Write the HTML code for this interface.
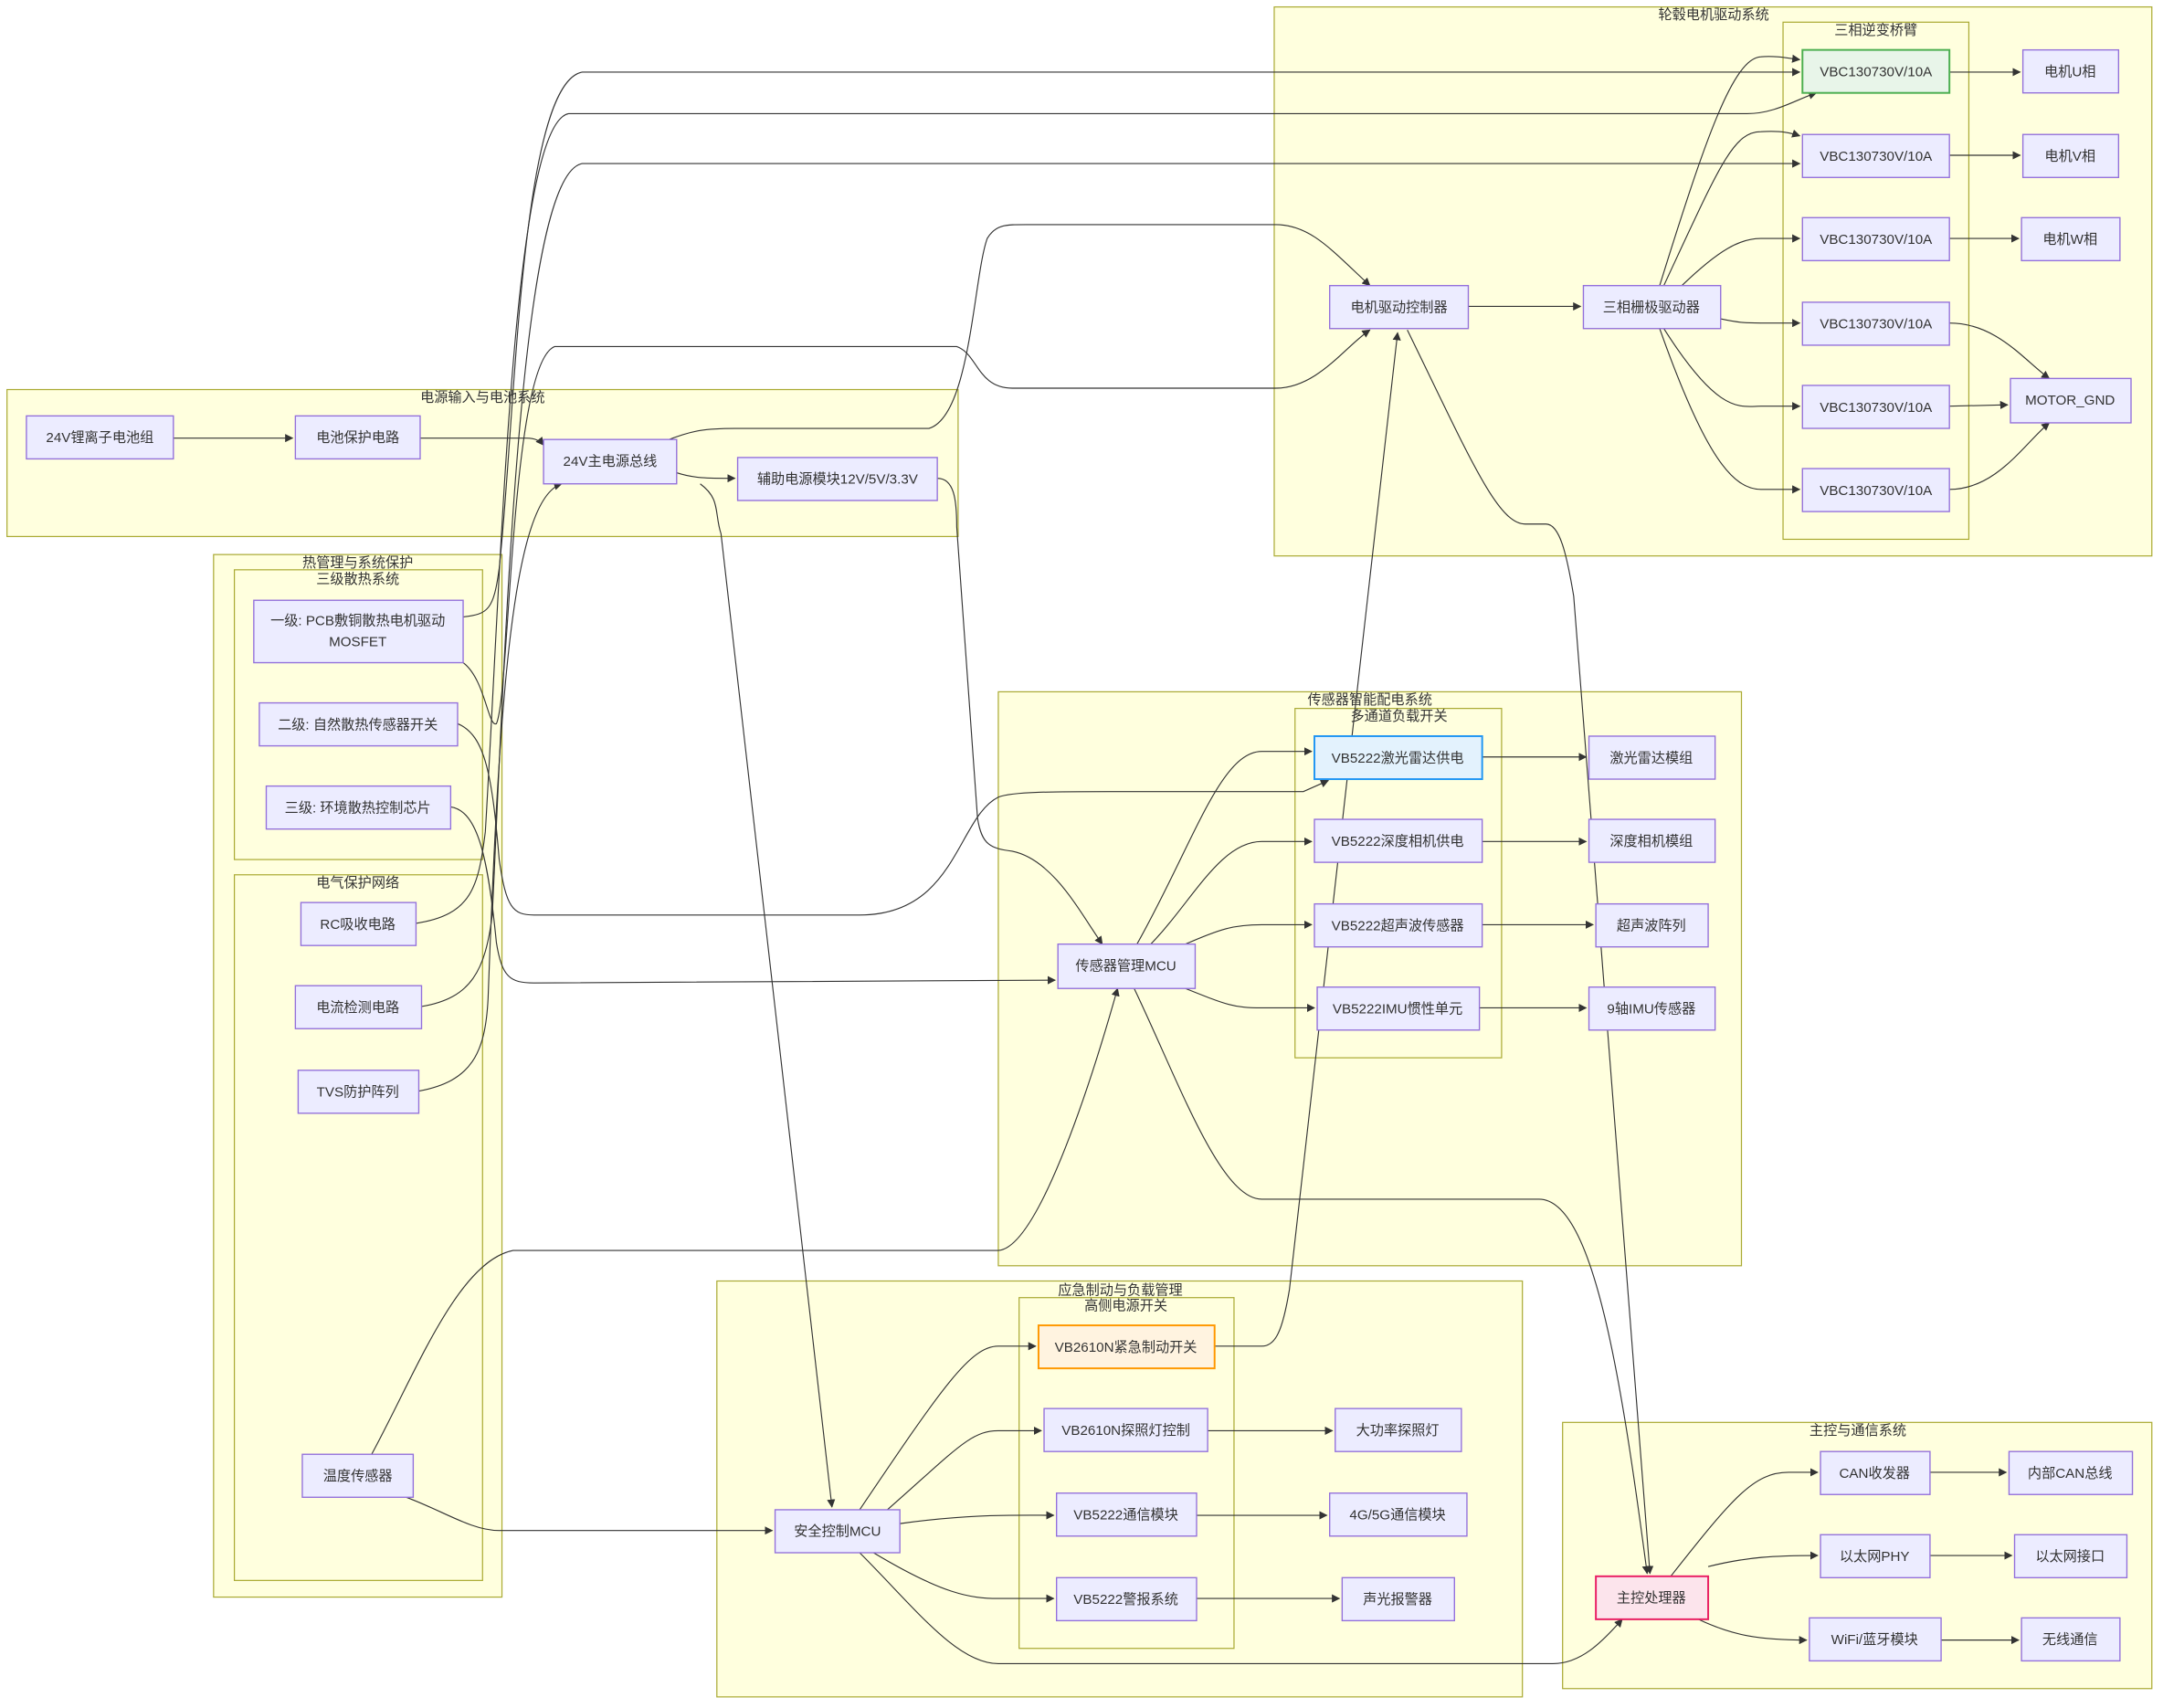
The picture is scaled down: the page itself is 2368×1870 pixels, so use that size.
<!DOCTYPE html>
<html><head><meta charset="utf-8"><style>
html,body{margin:0;padding:0;background:#fff;}
svg{display:block;}
text{font-family:"Liberation Sans","Noto Sans CJK SC",sans-serif;fill:#333;}
.cl{fill:#ffffde;stroke:#aaaa33;stroke-width:0.8;}
.nd{fill:#ececff;stroke:#9370db;stroke-width:0.9;}
.e{fill:none;stroke:#333;stroke-width:0.75;}
.t{font-size:10px;text-anchor:middle;dominant-baseline:central;}
</style></head><body>
<svg width="2368" height="1870" viewBox="0 0 1560 1232" xmlns="http://www.w3.org/2000/svg">
<defs><marker id="a" viewBox="0 0 10 10" refX="9" refY="5" markerWidth="6" markerHeight="6" markerUnits="userSpaceOnUse" orient="auto"><path d="M0,0L10,5L0,10z" fill="#333"/></marker></defs>
<!-- clusters -->
<rect class="cl" x="5" y="281" width="686" height="106"/>
<text class="t" x="348" y="287">电源输入与电池系统</text>
<rect class="cl" x="154" y="400" width="208" height="752"/>
<text class="t" x="258" y="406">热管理与系统保护</text>
<rect class="cl" x="169" y="411" width="179" height="209"/>
<text class="t" x="258" y="418">三级散热系统</text>
<rect class="cl" x="169" y="631" width="179" height="509"/>
<text class="t" x="258" y="637">电气保护网络</text>
<rect class="cl" x="919" y="5" width="633" height="396"/>
<text class="t" x="1236" y="11">轮毂电机驱动系统</text>
<rect class="cl" x="1286" y="16" width="134" height="373"/>
<text class="t" x="1353" y="22">三相逆变桥臂</text>
<rect class="cl" x="720" y="499" width="536" height="414"/>
<text class="t" x="988" y="505">传感器智能配电系统</text>
<rect class="cl" x="934" y="511" width="149" height="252"/>
<text class="t" x="1009" y="517">多通道负载开关</text>
<rect class="cl" x="517" y="924" width="581" height="300"/>
<text class="t" x="808" y="931">应急制动与负载管理</text>
<rect class="cl" x="735" y="936" width="155" height="253"/>
<text class="t" x="812" y="942">高侧电源开关</text>
<rect class="cl" x="1127" y="1026" width="425" height="192"/>
<text class="t" x="1340" y="1032">主控与通信系统</text>
<!-- edges -->
<g class="e" marker-end="url(#a)">
<path d="M125,316 L211,316"/>
<path d="M303,316 L380,316 Q388,316 392,321"/>
<path d="M488,341 C500,345 510,345 530,345"/>
<path d="M480,318 C500,310 510,309 530,309 L670,309 C700,300 702,200 712,172 C718,162 725,162 740,162 L920,162 C945,162 960,180 988,206"/>
<path d="M334,445 C352,443 356,440 360,410 C372,300 375,60 420,52 L1298,52"/>
<path d="M334,478 C350,490 352,525 358,522 C368,500 368,262 400,250 L690,250 C705,255 705,280 730,280 L920,280 C950,280 970,250 988,238"/>
<path d="M300,666 C340,660 345,640 350,600 C362,400 370,90 410,82 L1260,82 C1280,82 1295,72 1310,67"/>
<path d="M304,726 C340,720 350,700 355,660 C365,450 375,125 420,118 L1298,118"/>
<path d="M302,787 C340,780 350,760 352,720 C360,500 370,360 405,349"/>
<path d="M330,522 C350,530 355,560 360,620 C365,655 370,660 385,660 L620,660 C690,660 690,590 720,575 C730,571 760,571 800,571 L940,571 L958,563"/>
<path d="M325,582 C345,585 352,620 358,680 C362,705 368,709 385,709 L761,707"/>
<path d="M268,1049 C300,990 330,910 370,902 L720,902 C750,900 790,770 806,713"/>
<path d="M293,1080 C320,1090 340,1104 360,1104 L557,1104"/>
<path d="M676,345 C688,345 690,360 690,380 L705,590 C708,610 715,612 730,614 C760,620 780,660 795,681"/>
<path d="M505,349 C520,360 515,370 520,385 L600,1087"/>
<path d="M820,681 C860,610 880,542 910,542 L946,542"/>
<path d="M830,681 C860,650 880,607 910,607 L946,607"/>
<path d="M855,681 C880,670 890,667 910,667 L946,667"/>
<path d="M855,713 C885,725 890,727 910,727 L948,727"/>
<path d="M1069,546 L1144,546"/>
<path d="M1069,607 L1144,607"/>
<path d="M1069,667 L1149,667"/>
<path d="M1067,727 L1144,727"/>
<path d="M818,713 C850,780 880,865 910,865 L1110,865 C1150,865 1170,1000 1188,1135"/>
<path d="M1015,238 C1060,330 1080,378 1100,378 L1115,378 C1125,378 1130,400 1135,430 L1190,1135"/>
<path d="M620,1120 C660,1160 690,1200 720,1200 L1120,1200 C1140,1200 1155,1185 1170,1168"/>
<path d="M876,971 L910,971 C920,971 925,960 930,930 L1008,240"/>
<path d="M620,1089 C680,1000 700,971 720,971 L747,971"/>
<path d="M640,1089 C690,1045 700,1032 720,1032 L751,1032"/>
<path d="M649,1099 C700,1092 730,1093 760,1093"/>
<path d="M630,1120 C680,1150 700,1153 720,1153 L760,1153"/>
<path d="M871,1032 L961,1032"/>
<path d="M863,1093 L957,1093"/>
<path d="M863,1153 L966,1153"/>
<path d="M1059,221 L1140,221"/>
<path d="M1197,206 C1230,100 1250,42 1270,41 C1280,40 1290,42 1298,43"/>
<path d="M1200,206 C1240,120 1250,95 1270,95 C1285,94 1292,96 1298,98"/>
<path d="M1213,206 C1240,180 1255,172 1270,172 L1298,172"/>
<path d="M1241,230 C1255,233 1260,233 1270,233 L1298,233"/>
<path d="M1200,237 C1240,300 1255,293 1270,293 L1298,293"/>
<path d="M1197,237 C1230,330 1250,353 1270,353 L1298,353"/>
<path d="M1406,52 L1457,52"/>
<path d="M1406,112 L1457,112"/>
<path d="M1406,172 L1456,172"/>
<path d="M1406,233 C1440,233 1460,260 1478,273"/>
<path d="M1406,293 L1448,292"/>
<path d="M1406,353 C1440,353 1460,320 1478,305"/>
<path d="M1205,1137 C1250,1080 1265,1062 1290,1062 L1311,1062"/>
<path d="M1232,1130 C1260,1123 1280,1122 1311,1122"/>
<path d="M1225,1168 C1250,1180 1270,1183 1303,1183"/>
<path d="M1392,1062 L1447,1062"/>
<path d="M1392,1122 L1451,1122"/>
<path d="M1400,1183 L1456,1183"/>
</g>
<!-- nodes -->
<g>
<rect class="nd" x="19" y="300" width="106" height="31"/><text class="t" x="72" y="316">24V锂离子电池组</text>
<rect class="nd" x="213" y="300" width="90" height="31"/><text class="t" x="258" y="316">电池保护电路</text>
<rect class="nd" x="392" y="317" width="96" height="32"/><text class="t" x="440" y="333">24V主电源总线</text>
<rect class="nd" x="532" y="330" width="144" height="31"/><text class="t" x="604" y="346">辅助电源模块12V/5V/3.3V</text>
<rect class="nd" x="183" y="433" width="151" height="45"/><text class="t" x="258" y="448">一级: PCB敷铜散热电机驱动</text><text class="t" x="258" y="463">MOSFET</text>
<rect class="nd" x="187" y="507" width="143" height="31"/><text class="t" x="258" y="523">二级: 自然散热传感器开关</text>
<rect class="nd" x="192" y="567" width="133" height="31"/><text class="t" x="258" y="583">三级: 环境散热控制芯片</text>
<rect class="nd" x="217" y="651" width="83" height="31"/><text class="t" x="258" y="667">RC吸收电路</text>
<rect class="nd" x="213" y="711" width="91" height="31"/><text class="t" x="258" y="727">电流检测电路</text>
<rect class="nd" x="215" y="772" width="87" height="31"/><text class="t" x="258" y="788">TVS防护阵列</text>
<rect class="nd" x="218" y="1049" width="80" height="31"/><text class="t" x="258" y="1065">温度传感器</text>
<rect x="1300" y="36" width="106" height="31" fill="#e8f5e9" stroke="#4caf50" stroke-width="1.3"/><text class="t" x="1353" y="52">VBC130730V/10A</text>
<rect class="nd" x="1300" y="97" width="106" height="31"/><text class="t" x="1353" y="113">VBC130730V/10A</text>
<rect class="nd" x="1300" y="157" width="106" height="31"/><text class="t" x="1353" y="173">VBC130730V/10A</text>
<rect class="nd" x="1300" y="218" width="106" height="31"/><text class="t" x="1353" y="234">VBC130730V/10A</text>
<rect class="nd" x="1300" y="278" width="106" height="31"/><text class="t" x="1353" y="294">VBC130730V/10A</text>
<rect class="nd" x="1300" y="338" width="106" height="31"/><text class="t" x="1353" y="354">VBC130730V/10A</text>
<rect class="nd" x="1459" y="36" width="69" height="31"/><text class="t" x="1493" y="52">电机U相</text>
<rect class="nd" x="1459" y="97" width="69" height="31"/><text class="t" x="1493" y="113">电机V相</text>
<rect class="nd" x="1458" y="157" width="71" height="31"/><text class="t" x="1493" y="173">电机W相</text>
<rect class="nd" x="1450" y="273" width="87" height="32"/><text class="t" x="1493" y="289">MOTOR_GND</text>
<rect class="nd" x="959" y="206" width="100" height="31"/><text class="t" x="1009" y="222">电机驱动控制器</text>
<rect class="nd" x="1142" y="206" width="99" height="31"/><text class="t" x="1191" y="222">三相栅极驱动器</text>
<rect x="948" y="531" width="121" height="31" fill="#e3f2fd" stroke="#2196f3" stroke-width="1.3"/><text class="t" x="1008" y="547">VB5222激光雷达供电</text>
<rect class="nd" x="948" y="591" width="121" height="31"/><text class="t" x="1008" y="607">VB5222深度相机供电</text>
<rect class="nd" x="948" y="652" width="121" height="31"/><text class="t" x="1008" y="668">VB5222超声波传感器</text>
<rect class="nd" x="950" y="712" width="117" height="31"/><text class="t" x="1008" y="728">VB5222IMU惯性单元</text>
<rect class="nd" x="1146" y="531" width="91" height="31"/><text class="t" x="1191" y="547">激光雷达模组</text>
<rect class="nd" x="1146" y="591" width="91" height="31"/><text class="t" x="1191" y="607">深度相机模组</text>
<rect class="nd" x="1151" y="652" width="81" height="31"/><text class="t" x="1191" y="668">超声波阵列</text>
<rect class="nd" x="1146" y="712" width="91" height="31"/><text class="t" x="1191" y="728">9轴IMU传感器</text>
<rect class="nd" x="763" y="681" width="99" height="32"/><text class="t" x="812" y="697">传感器管理MCU</text>
<rect x="749" y="956" width="127" height="31" fill="#fff3e0" stroke="#ff9800" stroke-width="1.3"/><text class="t" x="812" y="972">VB2610N紧急制动开关</text>
<rect class="nd" x="753" y="1016" width="118" height="31"/><text class="t" x="812" y="1032">VB2610N探照灯控制</text>
<rect class="nd" x="762" y="1077" width="101" height="31"/><text class="t" x="812" y="1093">VB5222通信模块</text>
<rect class="nd" x="762" y="1138" width="101" height="31"/><text class="t" x="812" y="1154">VB5222警报系统</text>
<rect class="nd" x="963" y="1016" width="91" height="31"/><text class="t" x="1008" y="1032">大功率探照灯</text>
<rect class="nd" x="959" y="1077" width="99" height="31"/><text class="t" x="1008" y="1093">4G/5G通信模块</text>
<rect class="nd" x="968" y="1138" width="81" height="31"/><text class="t" x="1008" y="1154">声光报警器</text>
<rect class="nd" x="559" y="1089" width="90" height="31"/><text class="t" x="604" y="1105">安全控制MCU</text>
<rect x="1151" y="1137" width="81" height="31" fill="#fce4ec" stroke="#e91e63" stroke-width="1.3"/><text class="t" x="1191" y="1153">主控处理器</text>
<rect class="nd" x="1313" y="1047" width="79" height="31"/><text class="t" x="1352" y="1063">CAN收发器</text>
<rect class="nd" x="1313" y="1107" width="79" height="31"/><text class="t" x="1352" y="1123">以太网PHY</text>
<rect class="nd" x="1305" y="1167" width="95" height="31"/><text class="t" x="1352" y="1183">WiFi/蓝牙模块</text>
<rect class="nd" x="1449" y="1047" width="89" height="31"/><text class="t" x="1493" y="1063">内部CAN总线</text>
<rect class="nd" x="1453" y="1107" width="81" height="31"/><text class="t" x="1493" y="1123">以太网接口</text>
<rect class="nd" x="1458" y="1167" width="71" height="31"/><text class="t" x="1493" y="1183">无线通信</text>
</g>
</svg>
</body></html>
